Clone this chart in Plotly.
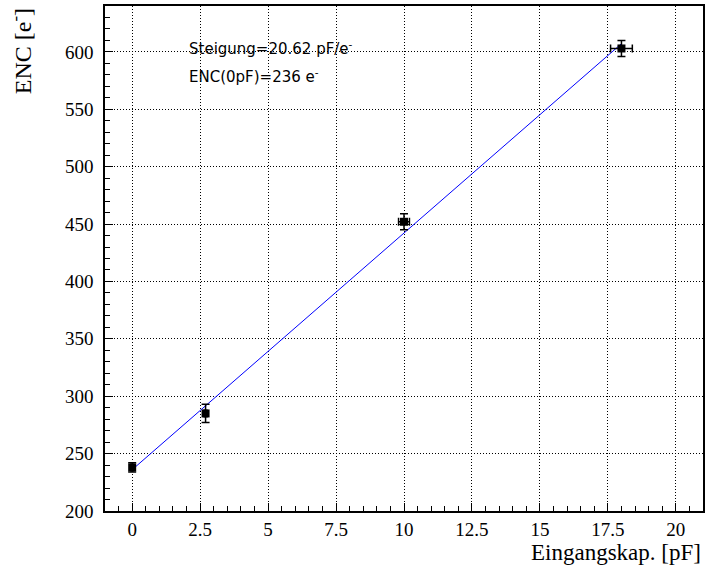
import plotly.graph_objects as go

cap_pf = [0.0, 2.7, 10.0, 18.0]
enc = [238.0, 285.0, 452.0, 603.0]
enc_err = [4.0, 8.0, 7.0, 7.0]
cap_err = [0.05, 0.05, 0.2, 0.4]

slope = 20.62
offset = 236.0
fit_x = [0.0, 18.0]
fit_y = [offset + slope * v for v in fit_x]

x_ticks = [0, 2.5, 5, 7.5, 10, 12.5, 15, 17.5, 20]
y_ticks = [200, 250, 300, 350, 400, 450, 500, 550, 600]

fig = go.Figure()
fig.add_trace(go.Scatter(
    x=fit_x, y=fit_y, mode="lines",
    line=dict(color="#0000ff", width=1), showlegend=False))
fig.add_trace(go.Scatter(
    x=cap_pf, y=enc, mode="markers",
    marker=dict(symbol="square", size=8, color="black"),
    error_y=dict(type="data", array=enc_err, color="black", thickness=1.5, width=4),
    error_x=dict(type="data", array=cap_err, color="black", thickness=1.5, width=4),
    showlegend=False))

tickfont = dict(family="Liberation Serif, Times New Roman, serif", size=19, color="black")

fig.update_layout(
    width=706, height=571,
    margin=dict(l=105, r=1, t=6, b=60),
    paper_bgcolor="white", plot_bgcolor="white",
    xaxis=dict(
        range=[-1, 21], tickvals=x_ticks, ticktext=[str(v) for v in x_ticks],
        ticks="inside", ticklen=8, tickcolor="black", tickwidth=1,
        minor=dict(dtick=0.5, ticks="inside", ticklen=5, tickcolor="black", showgrid=False),
        showgrid=True, gridcolor="black", griddash="1px,2px", gridwidth=1,
        showline=True, linecolor="black", linewidth=1.5, mirror=True,
        zeroline=False, tickfont=tickfont),
    yaxis=dict(
        range=[200, 640], tickvals=y_ticks, ticktext=[str(v) for v in y_ticks],
        ticks="inside", ticklen=8, tickcolor="black", tickwidth=1,
        minor=dict(dtick=10, ticks="inside", ticklen=5, tickcolor="black", showgrid=False),
        showgrid=True, gridcolor="black", griddash="1px,2px", gridwidth=1,
        showline=True, linecolor="black", linewidth=1.5, mirror=True,
        zeroline=False, tickfont=tickfont, ticklabelstandoff=6),
)

fig.add_annotation(
    xref="paper", yref="paper", x=-0.14, y=1.0, xanchor="center", yanchor="top",
    text="ENC [e<sup>-</sup>]", textangle=-90, showarrow=False,
    font=dict(family="Liberation Serif, Times New Roman, serif", size=24, color="black"))
fig.add_annotation(
    xref="paper", yref="paper", x=1.0, y=-0.083, xanchor="right", yanchor="middle",
    text="Eingangskap. [pF]", showarrow=False,
    font=dict(family="Liberation Serif, Times New Roman, serif", size=23, color="black"))

fig.add_annotation(
    x=2.0, y=603, xref="x", yref="y", xanchor="left", yanchor="middle",
    text=f"Steigung={slope} pF/e<sup>-</sup>", showarrow=False,
    font=dict(family="DejaVu Sans, sans-serif", size=15, color="black"))
fig.add_annotation(
    x=2.0, y=579, xref="x", yref="y", xanchor="left", yanchor="middle",
    text=f"ENC(0pF)={offset:.0f} e<sup>-</sup>", showarrow=False,
    font=dict(family="DejaVu Sans, sans-serif", size=15, color="black"))

fig.write_html("out.html")
